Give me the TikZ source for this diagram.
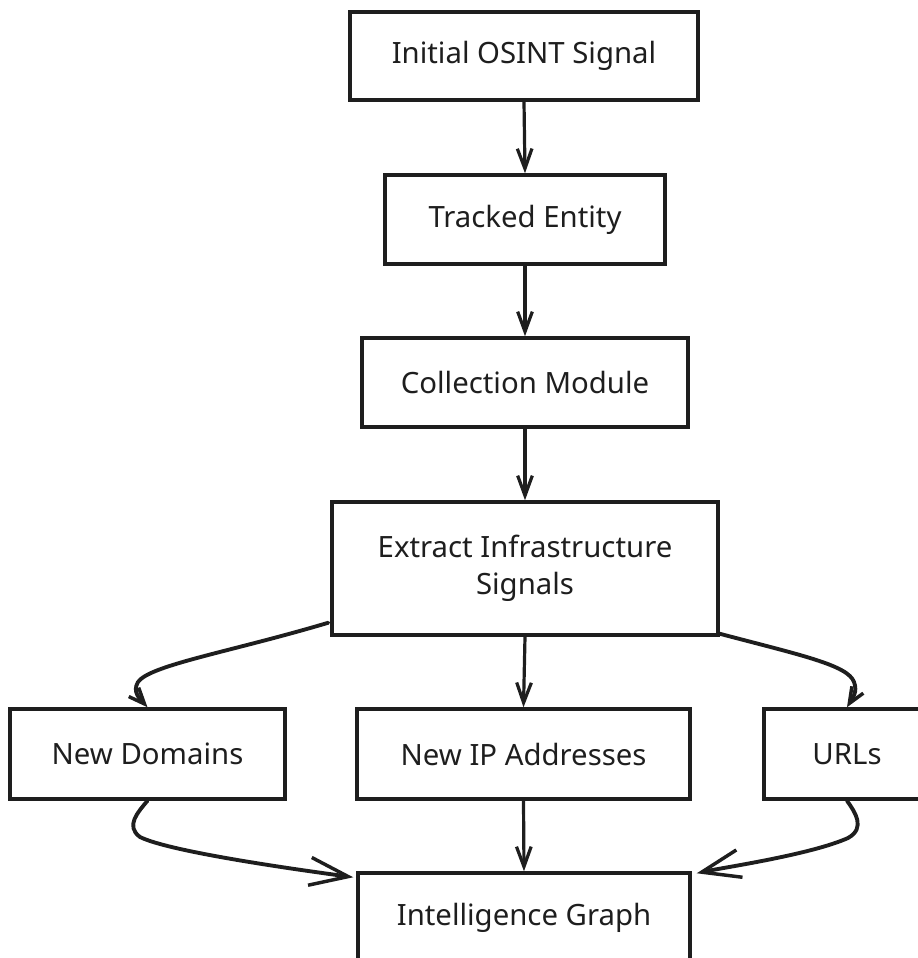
\documentclass[tikz,border=0pt]{standalone}
\usepackage{fontspec}
\setmainfont{Noto Sans}
\usetikzlibrary{arrows.meta,calc}
\definecolor{ink}{HTML}{1E1E1E}
\begin{document}
\begin{tikzpicture}[x=0.75pt,y=-0.75pt,
  box/.style={draw=ink, line width=2.6pt, text=ink,
    font=\fontsize{22}{28}\selectfont, inner sep=0pt, align=center},
  flow/.style={draw=ink, line width=2.4pt, line cap=round,
    -{Straight Barb[length=15pt,width=11pt,line width=2.4pt]}},
  curveA/.style={draw=ink, line width=2.9pt, line cap=round,
    -{Straight Barb[length=12pt,width=10pt,line width=2.6pt]}},
  curveB/.style={draw=ink, line width=2.9pt, line cap=round,
    -{Straight Barb[length=29pt,width=21pt,line width=2.6pt]}}]
\useasboundingbox (0,0) rectangle (918,958);
\clip (0,0) rectangle (918,958);

% process boxes
\node[box, minimum width={348*0.75pt}, minimum height={88*0.75pt}] (n1) at (524,56) {Initial OSINT Signal};
\node[box, minimum width={280*0.75pt}, minimum height={89*0.75pt}] (n2) at (525,219.5) {Tracked Entity};
\node[box, minimum width={326*0.75pt}, minimum height={89*0.75pt}] (n3) at (525,382.5) {Collection Module};
\node[box, minimum width={386*0.75pt}, minimum height={133*0.75pt}] (n4) at (525,568.5) {Extract Infrastructure\\Signals};
\node[box, minimum width={275*0.75pt}, minimum height={90*0.75pt}] (n5) at (147.5,754) {New Domains};
\node[box, minimum width={333*0.75pt}, minimum height={90*0.75pt}] (n6) at (523.5,754) {New IP Addresses};
\node[box, minimum width={166*0.75pt}, minimum height={90*0.75pt}] (n7) at (847,754) {URLs};
\node[box, minimum width={332*0.75pt}, minimum height={90*0.75pt}] (n8) at (524,918) {Intelligence Graph};

% straight flow
\draw[flow] (n1.south) -- (n2.north);
\draw[flow] (n2.south) -- (n3.north);
\draw[flow] (n3.south) -- (n4.north);
\draw[flow] (n4.south) -- (n6.north);
\draw[flow] (n6.south) -- (n8.north);

% fan-out to the side boxes
\draw[curveA] ($(n4.south west)+(-2,-14)$) .. controls (230,652) and (150,665) .. (138,682)
  .. controls (132,692) and (140,699) .. (n5.north);
\draw[curveA] ($(n4.south east)+(0,-3)$) .. controls (800,655) and (848,665) .. (854,682)
  .. controls (858,692) and (852,699) .. (n7.north);

% fan-in to the graph
\draw[curveB] (n5.south) .. controls (138,812) and (125,826) .. (140,837)
  .. controls (170,852) and (300,870) .. ($(n8.north west)+(-3,6)$);
\draw[curveB] (n7.south) .. controls (855,812) and (866,828) .. (848,838)
  .. controls (810,855) and (720,868) .. ($(n8.north east)+(5,2)$);
\end{tikzpicture}
\end{document}
